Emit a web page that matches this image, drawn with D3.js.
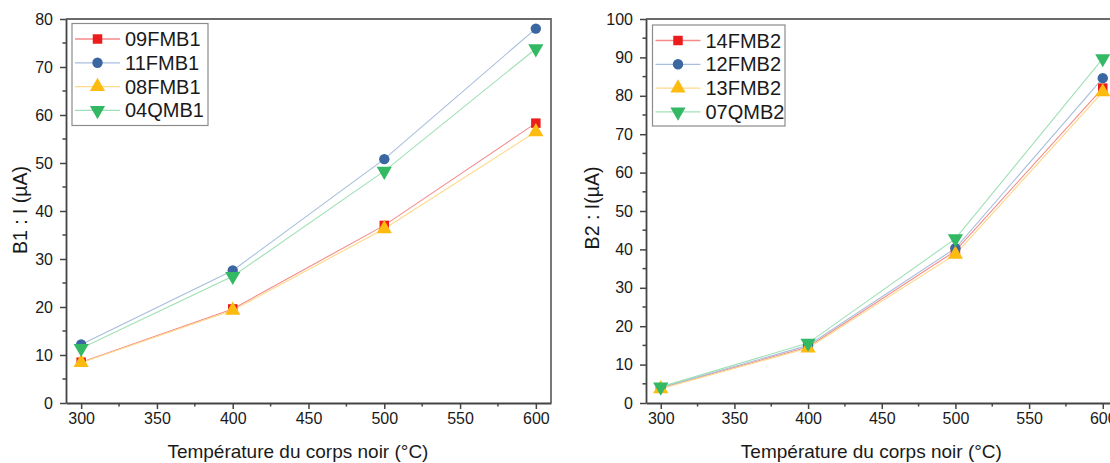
<!DOCTYPE html>
<html><head><meta charset="utf-8">
<script src="https://cdn.jsdelivr.net/npm/d3@7/dist/d3.min.js"></script>
<style>
body{margin:0;background:#fff;}
svg{display:block;font-family:"Liberation Sans",Arial,sans-serif;}
</style></head>
<body><svg id="c" width="1110" height="463"></svg>
<script>
// ---- data ----
const temps = [300, 400, 500, 600];
const xTickValues = [300, 350, 400, 450, 500, 550, 600];
const xMinorValues = [325, 375, 425, 475, 525, 575];

const b1Names = ["09FMB1", "11FMB1", "08FMB1", "04QMB1"];
const b1_09FMB1 = [8.5, 19.6, 37.0, 58.3];
const b1_11FMB1 = [12.2, 27.6, 50.8, 78.0];
const b1_08FMB1 = [8.4, 19.3, 36.3, 56.5];
const b1_04QMB1 = [11.4, 26.4, 48.3, 73.8];
const b1YTicks = [0, 10, 20, 30, 40, 50, 60, 70, 80];

const b2Names = ["14FMB2", "12FMB2", "13FMB2", "07QMB2"];
const b2_14FMB2 = [3.9, 14.6, 39.6, 82.0];
const b2_12FMB2 = [4.0, 15.0, 40.3, 84.6];
const b2_13FMB2 = [3.7, 14.3, 38.7, 81.0];
const b2_07QMB2 = [4.2, 15.6, 42.8, 89.7];
const b2YTicks = [0, 10, 20, 30, 40, 50, 60, 70, 80, 90, 100];

const xTitle = "Température du corps noir (°C)";
const b1YTitle = "B1 : I (µA)";
const b2YTitle = "B2 : I(µA)";

// ---- styles ----
const markerColors = ["#ec1c1c", "#3a67a1", "#fdbb12", "#33b864"];
const lineColors = ["#f58a8a", "#a7bedd", "#fdd98a", "#9fe0b6"];
const shapes = [d3.symbolSquare, d3.symbolCircle, d3.symbolTriangle, d3.symbolTriangle];
const sizes = [90, 85, 100, 100];
const rotations = [0, 0, 0, 180];

const svg = d3.select("#c");
const axisColor = "#444";
const textColor = "#1a1a1a";

function panel(opts) {
  const x = d3.scaleLinear().domain([290, 610]).range(opts.xRange);
  const y = d3.scaleLinear().domain(opts.yDomain).range([403, 19]);
  const g = svg.append("g");

  // frame (top & right)
  g.append("path")
    .attr("d", `M${x.range()[0]},${y.range()[1]}H${x.range()[1]}V${y.range()[0]}`)
    .attr("fill", "none").attr("stroke", "#6a6a6a").attr("stroke-width", 1.8);

  // x axis
  const xa = g.append("g").attr("transform", `translate(0,${y.range()[0]})`)
    .call(d3.axisBottom(x).tickValues(xTickValues).tickSize(6).tickPadding(4).tickSizeOuter(0));
  xa.select(".domain").attr("stroke", axisColor).attr("stroke-width", 1.8);
  xa.selectAll(".tick line").attr("stroke", axisColor).attr("stroke-width", 1.5);
  xa.selectAll(".tick text").attr("fill", textColor).style("font-size", "16px")
    .style("font-family", "Liberation Sans, Arial, sans-serif");
  xMinorValues.forEach(v => {
    g.append("line").attr("x1", x(v)).attr("x2", x(v))
      .attr("y1", y.range()[0]).attr("y2", y.range()[0] + 3.5)
      .attr("stroke", axisColor).attr("stroke-width", 1.5);
  });

  // y axis
  const ya = g.append("g").attr("transform", `translate(${x.range()[0]},0)`)
    .call(d3.axisLeft(y).tickValues(opts.yTicks).tickSize(6).tickPadding(7).tickSizeOuter(0));
  ya.select(".domain").attr("stroke", axisColor).attr("stroke-width", 1.8);
  ya.selectAll(".tick line").attr("stroke", axisColor).attr("stroke-width", 1.5);
  ya.selectAll(".tick text").attr("fill", textColor).style("font-size", "16px")
    .style("font-family", "Liberation Sans, Arial, sans-serif");
  for (let i = 0; i < opts.yTicks.length - 1; i++) {
    const v = (opts.yTicks[i] + opts.yTicks[i + 1]) / 2;
    g.append("line").attr("x1", x.range()[0]).attr("x2", x.range()[0] - 3.5)
      .attr("y1", y(v)).attr("y2", y(v))
      .attr("stroke", axisColor).attr("stroke-width", 1.5);
  }

  // titles
  g.append("text").attr("x", (x.range()[0] + x(600)) / 2 - 3).attr("y", 458)
    .attr("text-anchor", "middle").attr("fill", textColor).style("font-size", "19px")
    .text(xTitle);
  g.append("text").attr("transform", `translate(${opts.yTitleX},${opts.yTitleY}) rotate(-90)`)
    .attr("text-anchor", "middle").attr("fill", textColor).style("font-size", "19.5px")
    .text(opts.yTitle);

  // series lines
  const line = d3.line().x((d, i) => x(temps[i])).y(d => y(d));
  opts.series.forEach((s, k) => {
    g.append("path").attr("d", line(s)).attr("fill", "none")
      .attr("stroke", lineColors[k]).attr("stroke-width", 1.1);
  });
  // markers
  opts.series.forEach((s, k) => {
    const sym = d3.symbol().type(shapes[k]).size(sizes[k]);
    g.selectAll(null).data(s).enter().append("path")
      .attr("d", sym)
      .attr("transform", (d, i) => `translate(${x(temps[i])},${y(d)}) rotate(${rotations[k]})`)
      .attr("fill", markerColors[k]);
  });

  // legend
  const L = opts.legend;
  g.append("rect").attr("x", L.x).attr("y", L.y).attr("width", L.w).attr("height", L.h)
    .attr("fill", "#fff").attr("stroke", "#8c8c8c").attr("stroke-width", 1.2);
  opts.names.forEach((n, k) => {
    const cy = L.y + 15.5 + k * 23.8;
    g.append("line").attr("x1", L.x + 3).attr("x2", L.x + 48).attr("y1", cy).attr("y2", cy)
      .attr("stroke", lineColors[k]).attr("stroke-width", 1.3);
    g.append("path").attr("d", d3.symbol().type(shapes[k]).size(sizes[k])())
      .attr("transform", `translate(${L.x + 25.5},${cy}) rotate(${rotations[k]})`)
      .attr("fill", markerColors[k]);
    g.append("text").attr("x", L.x + 53).attr("y", cy + 7).attr("fill", textColor)
      .style("font-size", "20px").text(n);
  });
}

panel({
  xRange: [66, 551], yDomain: [0, 80], yTicks: b1YTicks,
  series: [b1_09FMB1, b1_11FMB1, b1_08FMB1, b1_04QMB1], names: b1Names,
  yTitle: b1YTitle, yTitleX: 27, yTitleY: 210,
  legend: {x: 72, y: 23.5, w: 136, h: 102}
});
panel({
  xRange: [646, 1117.5], yDomain: [0, 100], yTicks: b2YTicks,
  series: [b2_14FMB2, b2_12FMB2, b2_13FMB2, b2_07QMB2], names: b2Names,
  yTitle: b2YTitle, yTitleX: 599, yTitleY: 208,
  legend: {x: 652.5, y: 25, w: 132.5, h: 101}
});
</script></body></html>
